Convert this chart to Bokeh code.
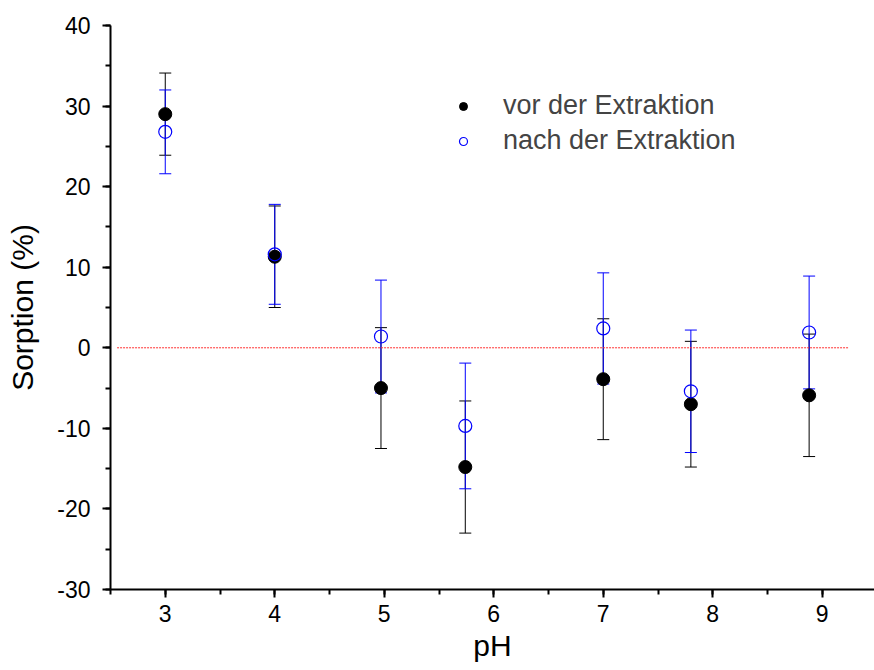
from bokeh.plotting import figure
from bokeh.models import (ColumnDataSource, Whisker, TeeHead, Legend, LegendItem, Range1d,
                          FixedTicker)
from bokeh.embed import file_html
from bokeh.resources import INLINE

# data
ph = [3.0, 4.0, 4.97, 5.74, 7.0, 7.8, 8.88]
vor = [29.0, 11.3, -5.0, -14.8, -3.9, -7.0, -5.9]
vor_err = [5.1, 6.3, 7.5, 8.2, 7.5, 7.8, 7.6]
nach = [26.8, 11.6, 1.4, -9.7, 2.4, -5.4, 1.9]
nach_err = [5.2, 6.2, 7.0, 7.8, 6.9, 7.6, 7.0]
ref_x = [2.56, 9.24]
ref_y = [0, 0]
x_ticks = [3, 4, 5, 6, 7, 8, 9]
y_ticks = [-30, -20, -10, 0, 10, 20, 30, 40]

FONT = "Liberation Sans"

p = figure(width=874, height=670, output_backend="svg", toolbar_location=None,
           x_range=Range1d(2.5, 9.477), y_range=Range1d(-30, 40),
           min_border_left=110, min_border_top=25, min_border_bottom=81, min_border_right=0)
p.outline_line_color = None
p.grid.visible = False

src_v = ColumnDataSource(dict(x=ph, y=vor,
                              lo=[a - b for a, b in zip(vor, vor_err)],
                              hi=[a + b for a, b in zip(vor, vor_err)]))
src_n = ColumnDataSource(dict(x=ph, y=nach,
                              lo=[a - b for a, b in zip(nach, nach_err)],
                              hi=[a + b for a, b in zip(nach, nach_err)]))

p.line(ref_x, ref_y, line_color="#ff3030", line_dash="2 1", line_width=1)

for src, col in ((src_v, "black"), (src_n, "blue")):
    w = Whisker(source=src, base="x", lower="lo", upper="hi", line_color=col, line_width=1,
                upper_head=TeeHead(size=12, line_color=col, line_width=1),
                lower_head=TeeHead(size=12, line_color=col, line_width=1))
    p.add_layout(w)

r1 = p.scatter("x", "y", source=src_v, size=13, fill_color="black", line_color="black")
r2 = p.scatter("x", "y", source=src_n, size=13, fill_color=None, line_color="blue", line_width=1.2)

for ax in (p.xaxis[0], p.yaxis[0]):
    ax.axis_line_width = 2
    ax.axis_line_color = "black"
    ax.major_tick_line_width = 2
    ax.minor_tick_line_width = 2
    ax.major_tick_line_color = "black"
    ax.minor_tick_line_color = "black"
    ax.major_tick_out = 8
    ax.major_tick_in = 0
    ax.minor_tick_out = 5
    ax.minor_tick_in = 0
    ax.major_label_text_font = FONT
    ax.major_label_text_font_size = "23px"
    ax.major_label_text_color = "black"
    ax.axis_label_text_font = FONT
    ax.axis_label_text_font_size = "30px"
    ax.axis_label_text_color = "black"
    ax.axis_label_text_font_style = "normal"

p.xaxis.ticker = FixedTicker(ticks=x_ticks, minor_ticks=[2.5 + 0.5 * i for i in range(15)])
p.yaxis.ticker = FixedTicker(ticks=y_ticks, minor_ticks=[-30 + 5 * i for i in range(15)])
p.yaxis.major_label_overrides = {t: str(t) for t in y_ticks}
p.xaxis.axis_label = "pH"
p.yaxis.axis_label = "Sorption (%)"
p.xaxis.major_label_standoff = 7
p.xaxis.axis_label_standoff = 4
p.yaxis.major_label_standoff = 12
p.yaxis.axis_label_standoff = 15

legend = Legend(items=[LegendItem(label="vor der Extraktion", renderers=[r1]),
                       LegendItem(label="nach der Extraktion", renderers=[r2])],
                location=(343, 433), padding=0, margin=0, spacing=4,
                glyph_width=20, glyph_height=20, label_height=20, label_standoff=30,
                label_text_font=FONT, label_text_font_size="27px",
                border_line_color=None, background_fill_alpha=0)
p.add_layout(legend)

open("out.html", "w").write(file_html(p, INLINE))
